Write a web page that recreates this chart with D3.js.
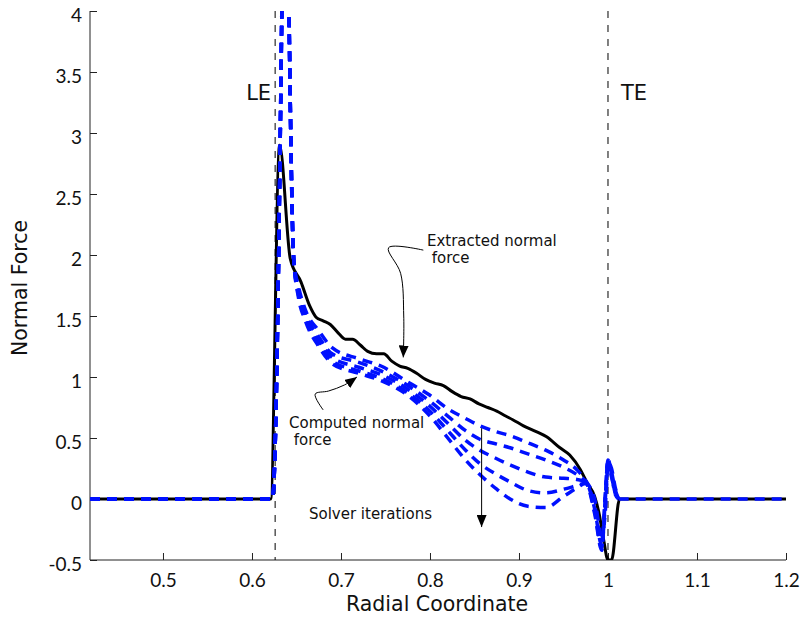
<!DOCTYPE html>
<html>
<head>
<meta charset="utf-8">
<script src="https://cdn.jsdelivr.net/npm/d3@7"></script>
<style>
  body { margin: 0; background: #fff; }
  text { font-family: "DejaVu Sans", sans-serif; fill: #111; }
  .tick text { font-family: Lato, sans-serif; }
</style>
</head>
<body>
<svg id="chart" width="801" height="618"></svg>
<script>
// ticks
const xTicks = [ 0.5, 0.6, 0.7, 0.8, 0.9, 1, 1.1, 1.2 ];
const yTicks = [ -0.5, 0, 0.5, 1, 1.5, 2, 2.5, 3, 3.5, 4 ];

// extracted normal force (black)
const extractedX = [ 0.418, 0.621, 0.631, 0.643, 0.655, 0.665, 0.672, 0.680, 0.688, 0.697, 0.705, 0.713, 0.722, 0.730,
  0.740, 0.748, 0.757, 0.766, 0.775, 0.785, 0.795, 0.805, 0.815, 0.825, 0.835, 0.845, 0.855, 0.865, 0.875, 0.885,
  0.893, 0.905, 0.920, 0.931, 0.946, 0.957, 0.969, 0.976, 0.985, 0.990, 0.995, 1.000, 1.004, 1.013, 1.200 ];
const extractedY = [ 0, 0, 2.9, 1.97, 1.78, 1.58, 1.49, 1.46, 1.43, 1.36, 1.31, 1.31, 1.26, 1.21,
  1.19, 1.19, 1.13, 1.09, 1.07, 1.03, 0.98, 0.95, 0.93, 0.88, 0.84, 0.82, 0.78, 0.75, 0.72, 0.68,
  0.65, 0.60, 0.55, 0.51, 0.42, 0.36, 0.24, 0.14, 0.02, -0.12, -0.33, -0.5, -0.5, 0, 0 ];

// computed normal force, solver iterations (blue dashed)
const computedX = [ 0.418, 0.623, 0.6335, 0.6375, 0.6416, 0.647, 0.652, 0.660, 0.675, 0.690, 0.720, 0.745, 0.775, 0.800,
  0.820, 0.840, 0.856, 0.875, 0.890, 0.910, 0.930, 0.950, 0.965, 0.975, 0.985, 0.993, 0.997, 1.000, 1.004, 1.008,
  1.012, 1.200 ];
const iter1 = [ 0, 0, 4.0, 6.8, 4.0, 1.95, 1.75, 1.55, 1.38, 1.24, 1.15, 1.09, 0.96, 0.85,
  0.74, 0.66, 0.60, 0.55, 0.52, 0.46, 0.40, 0.32, 0.24, 0.15, 0.00, -0.30, -0.10, 0.30, 0.25, 0.10,
  0, 0 ];
const iter2 = [ 0, 0, 4.0, 6.8, 4.0, 1.95, 1.72, 1.52, 1.33, 1.19, 1.12, 1.05, 0.93, 0.80,
  0.68, 0.56, 0.49, 0.45, 0.42, 0.37, 0.32, 0.26, 0.20, 0.14, -0.05, -0.35, -0.05, 0.28, 0.22, 0.08,
  0, 0 ];
const iter3 = [ 0, 0, 4.0, 6.8, 4.0, 1.95, 1.70, 1.50, 1.30, 1.16, 1.08, 1.02, 0.90, 0.76,
  0.62, 0.48, 0.40, 0.33, 0.28, 0.22, 0.18, 0.17, 0.16, 0.14, -0.08, -0.38, 0.00, 0.32, 0.20, 0.05,
  0, 0 ];
const iter4 = [ 0, 0, 4.0, 6.8, 4.0, 1.95, 1.68, 1.48, 1.27, 1.13, 1.05, 0.99, 0.87, 0.72,
  0.56, 0.40, 0.29, 0.20, 0.14, 0.07, 0.05, 0.08, 0.11, 0.13, -0.10, -0.40, 0.05, 0.30, 0.18, 0.06,
  0, 0 ];
const iter5 = [ 0, 0, 4.0, 6.8, 4.0, 1.95, 1.66, 1.46, 1.25, 1.11, 1.03, 0.97, 0.85, 0.68,
  0.50, 0.32, 0.20, 0.08, 0.00, -0.06, -0.07, 0.02, 0.09, 0.13, -0.12, -0.42, 0.02, 0.33, 0.20, 0.04,
  0, 0 ];
const iterations = [ iter1, iter2, iter3, iter4, iter5 ];

// leading / trailing edge positions
const edges = [ { x: 0.626, label: "LE" }, { x: 1.0, label: "TE" } ];

const svg = d3.select( "#chart" );
const WIDTH = 801;
const HEIGHT = 618;
const MARGINS = { top: 11, right: 15, bottom: 58, left: 90 };

const xScale = d3.scaleLinear()
  .domain( [ 0.418, 1.2 ] )
  .range( [ MARGINS.left, WIDTH - MARGINS.right ] );
const yScale = d3.scaleLinear()
  .domain( [ -0.5, 4 ] )
  .range( [ HEIGHT - MARGINS.bottom, MARGINS.top ] );

const defs = svg.append( "defs" );
defs.append( "clipPath" ).attr( "id", "plot" )
  .append( "rect" )
  .attr( "x", MARGINS.left ).attr( "y", MARGINS.top )
  .attr( "width", WIDTH - MARGINS.right - MARGINS.left )
  .attr( "height", HEIGHT - MARGINS.bottom - MARGINS.top );
defs.append( "marker" )
  .attr( "id", "head" )
  .attr( "markerUnits", "userSpaceOnUse" )
  .attr( "viewBox", "0 0 12 10" )
  .attr( "refX", 12 ).attr( "refY", 5 )
  .attr( "markerWidth", 12 ).attr( "markerHeight", 10 )
  .attr( "orient", "auto" )
  .append( "path" )
  .attr( "d", "M0,0 L12,5 L0,10 Z" )
  .attr( "fill", "#000" );

// axes (ticks point into the plot)
const xAxis = d3.axisBottom( xScale ).tickValues( xTicks ).tickSizeInner( -7 ).tickSizeOuter( 0 ).tickPadding( 14 )
  .tickFormat( d => String( d ) );
const yAxis = d3.axisLeft( yScale ).tickValues( yTicks ).tickSizeInner( -7 ).tickSizeOuter( 0 ).tickPadding( 8 )
  .tickFormat( d => String( d ) );

const gx = svg.append( "g" )
  .attr( "transform", `translate(0,${HEIGHT - MARGINS.bottom})` )
  .call( xAxis );
const gy = svg.append( "g" )
  .attr( "transform", `translate(${MARGINS.left},0)` )
  .call( yAxis );
[ gx, gy ].forEach( g => {
  g.selectAll( "text" ).style( "font-size", "19px" ).attr( "fill", "#111" );
  g.select( ".domain" ).attr( "stroke", "#222" );
  g.selectAll( ".tick line" ).attr( "stroke", "#222" );
} );
gy.selectAll( "text" ).attr( "dy", "0.55em" );
gx.select( ".domain" ).attr( "d", `M${MARGINS.left},0H${WIDTH - MARGINS.right}` );
gy.select( ".domain" ).attr( "d", `M0,${HEIGHT - MARGINS.bottom}V${MARGINS.top}` );

// axis titles
svg.append( "text" )
  .attr( "x", xScale( 0.808 ) ).attr( "y", 611 )
  .attr( "text-anchor", "middle" )
  .style( "font-size", "20.5px" )
  .text( "Radial Coordinate" );
svg.append( "text" )
  .attr( "transform", `translate(27,${yScale( 1.73 )}) rotate(-90)` )
  .attr( "text-anchor", "middle" )
  .style( "font-size", "20.5px" )
  .text( "Normal Force" );

const plot = svg.append( "g" ).attr( "clip-path", "url(#plot)" );

// LE / TE dashed markers
plot.selectAll( ".edge" )
  .data( edges )
  .enter()
  .append( "line" )
  .attr( "x1", d => xScale( d.x ) ).attr( "x2", d => xScale( d.x ) )
  .attr( "y1", yScale( 4 ) ).attr( "y2", yScale( -0.5 ) )
  .attr( "stroke", "#000" ).attr( "stroke-width", 1 )
  .attr( "stroke-dasharray", "7,7" );
svg.selectAll( ".edgeLabel" )
  .data( edges )
  .enter()
  .append( "text" )
  .attr( "x", d => d.label === "LE" ? xScale( d.x ) - 4 : xScale( d.x ) + 13 )
  .attr( "y", yScale( 3.27 ) )
  .attr( "text-anchor", d => d.label === "LE" ? "end" : "start" )
  .style( "font-size", "21px" )
  .text( d => d.label );

const lineFunc = d3.line()
  .x( d => xScale( d[0] ) )
  .y( d => yScale( d[1] ) )
  .curve( d3.curveMonotoneX );

plot.append( "path" )
  .attr( "d", lineFunc( d3.zip( extractedX, extractedY ) ) )
  .attr( "stroke", "#000" )
  .attr( "stroke-width", 3 )
  .attr( "fill", "none" );

// iterations: the free-stream tail behind TE is shared, so draw it once to keep the dash visible
const tailStart = computedX.indexOf( 1.012 );
const blueStyle = sel => sel
  .attr( "stroke", "#0010ff" )
  .attr( "stroke-width", 3.5 )
  .attr( "stroke-dasharray", "10,7" )
  .attr( "fill", "none" );

plot.selectAll( ".iter" )
  .data( iterations )
  .enter()
  .append( "path" )
  .attr( "d", ys => lineFunc( d3.zip( computedX, ys ).slice( 0, tailStart + 1 ) ) )
  .call( blueStyle );
plot.append( "path" )
  .attr( "d", lineFunc( d3.zip( computedX, iter5 ).slice( tailStart ) ) )
  .call( blueStyle );

// annotations
const arrowLine = d3.line()
  .x( d => xScale( d[0] ) )
  .y( d => yScale( d[1] ) )
  .curve( d3.curveCatmullRom );
const extractedArrow = [ [ 0.7925, 2.04 ], [ 0.7535, 2.06 ], [ 0.767, 1.85 ], [ 0.7705, 1.50 ], [ 0.770, 1.16 ] ];
const computedArrow = [ [ 0.680, 0.73 ], [ 0.671, 0.86 ], [ 0.686, 0.885 ], [ 0.704, 0.935 ], [ 0.718, 1.0 ] ];
const solverArrow = [ [ 0.858, 0.58 ], [ 0.858, -0.23 ] ];
[ extractedArrow, computedArrow, solverArrow ].forEach( pts => {
  svg.append( "path" )
    .attr( "d", arrowLine( pts ) )
    .attr( "stroke", "#000" )
    .attr( "stroke-width", 1 )
    .attr( "fill", "none" )
    .attr( "marker-end", "url(#head)" );
} );

const notes = [
  { x: 0.7966, y: 2.074, lines: [ "Extracted normal", " force" ] },
  { x: 0.6416, y: 0.582, lines: [ "Computed normal", " force" ] },
  { x: 0.664, y: -0.164, lines: [ "Solver iterations" ] },
];
notes.forEach( n => {
  const t = svg.append( "text" )
    .attr( "x", xScale( n.x ) ).attr( "y", yScale( n.y ) )
    .style( "font-size", "15px" )
    .attr( "xml:space", "preserve" );
  n.lines.forEach( ( l, i ) => {
    t.append( "tspan" ).attr( "x", xScale( n.x ) ).attr( "dy", i ? 17 : 0 ).text( l );
  } );
} );
</script>
</body>
</html>
